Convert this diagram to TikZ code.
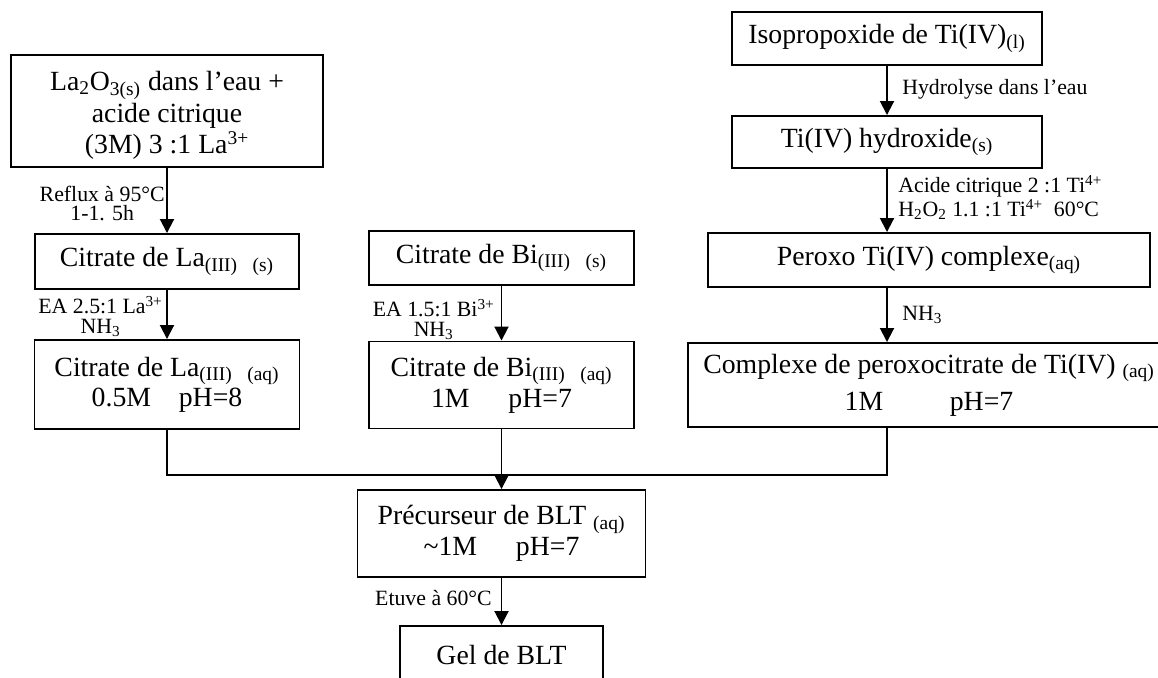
\documentclass[tikz,border=0pt]{standalone}
\usepackage{fontspec}
\setmainfont{Liberation Serif}
\usetikzlibrary{arrows.meta, positioning}

\begin{document}
\begin{tikzpicture}[
    stage/.style={draw, line width=1.1pt, minimum height=1.08cm, align=center,
                  inner sep=2pt, font=\fontsize{15.8}{16}\selectfont},
    cond/.style={inner sep=0pt, align=center, font=\fontsize{12.4}{11.2}\selectfont},
    flow/.style={line width=1.1pt, -{Triangle[length=0.28cm, width=0.28cm]}}
]
    \clip (0,0) rectangle (23.16,-13.54);

    % La column
    \node[stage, minimum width=6.24cm, minimum height=2.24cm] (la2o3) at (3.34,-2.22)
        {\rule{0pt}{0.55cm}La\textsubscript{2}O\textsubscript{3(s)} dans l’eau +\\[0.05cm]acide citrique\\[0.05cm](3M) 3 :1 La\textsuperscript{3+}};
    \node[stage, minimum width=5.28cm, minimum height=1.10cm] (laS) at (3.34,-5.23)
        {Citrate de La\textsubscript{(III)\hspace{0.8em}(s)}};
    \node[stage, minimum width=5.30cm, minimum height=1.78cm] (laAq) at (3.34,-7.69)
        {Citrate de La\textsubscript{(III)\hspace{0.8em}(aq)}\\[0.04cm]0.5M\quad pH=8};
    \node[cond, anchor=east] (reflux) at (3.30,-4.07) {Reflux à 95°C\\1-1. 5h};
    \node[cond, anchor=east] (eaLa) at (3.26,-6.33) {EA 2.5:1 La\textsuperscript{3+}\\NH\textsubscript{3}};

    % Bi column
    \node[stage, minimum width=5.30cm, minimum height=1.08cm] (biS) at (10.03,-5.16)
        {Citrate de Bi\textsubscript{(III)\hspace{0.8em}(s)}};
    \node[stage, minimum width=5.30cm, minimum height=1.74cm] (biAq) at (10.03,-7.70)
        {Citrate de Bi\textsubscript{(III)\hspace{0.8em}(aq)}\\[0.06cm]1M\hspace{1.4em}pH=7};
    \node[cond, anchor=east] (eaBi) at (9.90,-6.39) {EA 1.5:1 Bi\textsuperscript{3+}\\NH\textsubscript{3}};

    % Ti column
    \node[stage, minimum width=6.20cm, minimum height=1.06cm] (tiIso) at (17.74,-0.77)
        {Isopropoxide de Ti(IV)\textsubscript{(l)}};
    \node[stage, minimum width=6.20cm, minimum height=1.04cm] (tiOH) at (17.74,-2.84)
        {Ti(IV) hydroxide\textsubscript{(s)}};
    \node[stage, minimum width=8.84cm, minimum height=1.08cm] (tiPer) at (18.58,-5.20)
        {Peroxo Ti(IV) complexe\textsubscript{(aq)}};
    \node[stage, minimum width=9.64cm, minimum height=1.68cm] (tiCit) at (18.58,-7.70)
        {Complexe de peroxocitrate de Ti(IV) \textsubscript{(aq)}\\[0.18cm]1M\hspace{2.4em}pH=7};
    \node[cond, anchor=west] (hydro) at (18.04,-1.78) {Hydrolyse dans l’eau};
    \node[cond, anchor=west, align=left] (acide) at (17.96,-3.95)
        {Acide citrique 2 :1 Ti\textsuperscript{4+}\\H\textsubscript{2}O\textsubscript{2} 1.1 :1 Ti\textsuperscript{4+}\ \ 60°C};
    \node[cond, anchor=west] (nhTi) at (18.04,-6.30) {NH\textsubscript{3}};

    % BLT
    \coordinate (join) at (10.03,-9.50);
    \node[stage, minimum width=5.76cm, minimum height=1.74cm] (prec) at (10.03,-10.67)
        {Précurseur de BLT \textsubscript{(aq)}\\[0.06cm]\textasciitilde1M\hspace{1.4em}pH=7};
    \node[stage, minimum width=4.06cm, minimum height=1.16cm] (gel) at (10.03,-13.10)
        {Gel de BLT};
    \node[cond, anchor=east] (etuve) at (9.84,-11.96) {Etuve à 60°C};

    % arrows
    \draw[flow] (la2o3) -- (laS);
    \draw[flow] (laS) -- (laAq);
    \draw[flow] (biS) -- (biAq);
    \draw[flow] (tiIso) -- (tiOH);
    \draw[flow] (tiOH.south) -- (tiOH.south |- tiPer.north);
    \draw[flow] (tiPer.south -| tiOH) -- (tiOH |- tiCit.north);
    \draw[line width=1.1pt] (laAq.south) |- (join) -| (tiOH |- tiCit.south);
    \draw[line width=1.1pt] (biAq.south) -- (join);
    \draw[flow] (join) -- (prec.north);
    \draw[flow] (prec) -- (gel);
\end{tikzpicture}
\end{document}
